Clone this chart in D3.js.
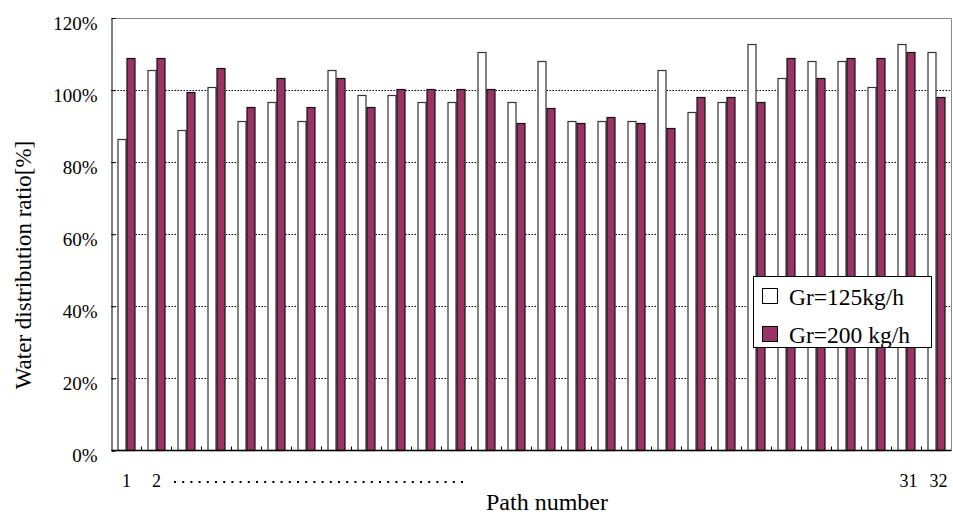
<!DOCTYPE html>
<html><head><meta charset="utf-8">
<script src="https://cdn.jsdelivr.net/npm/d3@7"></script>
<style>body{margin:0;background:#fff}svg{display:block}</style>
</head><body><div id="chart"></div>
<script>
const paths = d3.range(1, 29);
const gr125 = [86.5,105.7,89.0,100.9,91.4,96.6,91.4,105.7,98.7,98.7,96.6,96.6,110.7,96.6,108.2,91.4,91.4,91.4,105.7,93.8,96.6,112.7,103.3,108.2,108.2,100.9,112.7,110.7];
const gr200 = [108.8,108.8,99.5,106.1,95.2,103.3,95.2,103.3,95.2,100.4,100.4,100.4,100.4,90.9,95.1,90.9,92.4,90.9,89.6,98.0,98.0,96.6,108.8,103.3,108.8,108.8,110.7,98.0];
const yTicks = [0,20,40,60,80,100,120];
const seriesNames = ["Gr=125kg/h","Gr=200 kg/h"];
const xLabels = [{i:0,t:"1"},{i:1,t:"2"},{i:26,t:"31"},{i:27,t:"32"}];

const FONT="'Liberation Serif','Times New Roman','DejaVu Serif',serif";
const W=953,H=516;
const L=111.5,R=951.5,T=18,B=450.5;
const svg=d3.select("#chart").append("svg").attr("width",W).attr("height",H).style("font-family",FONT);
const x=d3.scaleBand().domain(paths).range([L,R]).paddingInner(0).paddingOuter(0);
const x1=d3.scaleBand().domain([0,1]).range([x.bandwidth()*0.21,x.bandwidth()*0.78]);
const y=d3.scaleLinear().domain([0,120]).range([B,T]);

svg.append("g").selectAll("line").data(yTicks.filter(d=>d>0&&d<120)).join("line")
 .attr("x1",L).attr("x2",R).attr("y1",d=>Math.round(y(d))+0.5).attr("y2",d=>Math.round(y(d))+0.5)
 .attr("stroke","#000").attr("stroke-width",1).attr("stroke-dasharray","1.5,1.5");
svg.append("path").attr("d",`M${L},${T+0.5}H${R}V${B}`).attr("fill","none").attr("stroke","#888").attr("stroke-width",1);

const colors=["#ffffff","#993366"];
const data=paths.map((p,i)=>({p,v:[gr125[i],gr200[i]]}));
const g=svg.append("g").selectAll("g").data(data).join("g").attr("transform",d=>`translate(${x(d.p)},0)`);
g.selectAll("rect").data(d=>d.v.map((v,k)=>({k,v}))).join("rect")
 .attr("x",d=>Math.round(x1(d.k))+0.5).attr("width",Math.round(x1.bandwidth())-1)
 .attr("y",d=>Math.round(y(d.v))+0.5).attr("height",d=>B-Math.round(y(d.v))-0.5)
 .attr("fill",d=>colors[d.k]).attr("stroke",d=>d.k?"#111":"#333").attr("stroke-width",1.2);

const ya=svg.append("g").attr("transform",`translate(${L},0)`)
 .call(d3.axisLeft(y).tickValues(yTicks).tickSize(-4).tickFormat(d=>d+"%").tickPadding(14));
ya.attr("font-family",FONT);
ya.select(".domain").attr("stroke","#000");
ya.selectAll("text").attr("font-size",19).attr("dy","0.6em").style("font-family",FONT).attr("fill","#000");
ya.selectAll(".tick line").attr("stroke","#000");

svg.append("line").attr("x1",L).attr("x2",R).attr("y1",B).attr("y2",B).attr("stroke","#000").attr("stroke-width",1.3);
svg.append("g").selectAll("line").data(paths.slice(1)).join("line")
 .attr("x1",d=>x(d)).attr("x2",d=>x(d)).attr("y1",B).attr("y2",B-4).attr("stroke","#000");

svg.append("g").selectAll("text").data(xLabels).join("text")
 .attr("x",d=>x(paths[d.i])+x.bandwidth()/2+(d.i>25?2:0)).attr("y",487).attr("text-anchor","middle").attr("font-size",18).style("font-family",FONT).text(d=>d.t);
svg.append("line").attr("x1",174).attr("x2",467).attr("y1",482).attr("y2",482)
 .attr("stroke","#000").attr("stroke-width",2).attr("stroke-dasharray","2,6.2");

svg.append("text").attr("x",547).attr("y",510).attr("text-anchor","middle").attr("font-size",24).style("font-family",FONT).text("Path number");
svg.append("text").attr("transform","translate(31,265) rotate(-90)").attr("text-anchor","middle").attr("font-size",23).style("font-family",FONT).text("Water distribution ratio[%]");

const lg=svg.append("g");
lg.append("rect").attr("x",753.5).attr("y",276.5).attr("width",178).attr("height",71).attr("fill","#fff").attr("stroke","#000");
seriesNames.forEach((s,k)=>{
  lg.append("rect").attr("x",762.5).attr("y",288.5+k*38).attr("width",15).attr("height",15).attr("fill",colors[k]).attr("stroke","#000");
  lg.append("text").attr("x",789).attr("y",305+k*38).attr("font-size",23.5).style("font-family",FONT).text(s);
});
</script></body></html>
